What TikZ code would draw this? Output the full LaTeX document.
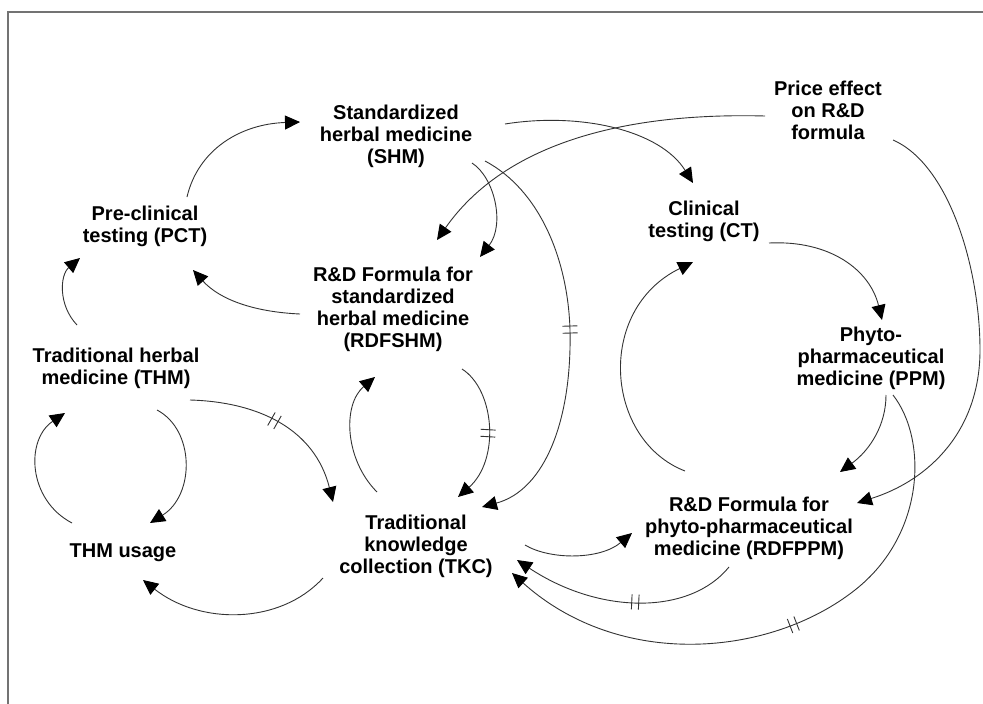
\documentclass[tikz,border=0pt]{standalone}
\usepackage{fontspec}
\setmainfont{Liberation Sans}
\usetikzlibrary{arrows.meta,decorations.markings,calc}
\begin{document}
\begin{tikzpicture}[x=1pt,y=-1pt,
  lbl/.style={font=\bfseries\fontsize{20}{22}\selectfont, align=center, inner sep=0pt},
  conn/.style={draw=black!80, line width=0.9pt, -{Triangle[length=15pt,width=14pt,color=black]}},
  dl/.style={postaction={decorate,decoration={markings,mark=at position #1 with {\draw[arrows=-,draw=black!80,line width=0.9pt] (-3.5,-7.5)--(-3.5,7.5) (3.5,-7.5)--(3.5,7.5);}}}}]
\useasboundingbox (0,0) rectangle (983,704);
\draw[draw=black!55, line width=2pt] (8,704) -- (8,12) -- (983,12);

% nodes
\node[lbl] (shm) at (396,136) {Standardized\\herbal medicine\\(SHM)};
\node[lbl] (price) at (828,110) {Price effect\\on R\&D\\formula};
\node[lbl] (pct) at (145,226) {Pre-clinical\\testing (PCT)};
\node[lbl] (ct) at (704,221) {Clinical\\testing (CT)};
\node[lbl] (rdfshm) at (393,309) {R\&D Formula for\\standardized\\herbal medicine\\(RDFSHM)};
\node[lbl] (thm) at (116,368) {Traditional herbal\\medicine (THM)};
\node[lbl] (ppm) at (871,358) {Phyto-\\pharmaceutical\\medicine (PPM)};
\node[lbl] (usage) at (123,553) {THM usage};
\node[lbl] (tkc) at (416,546) {Traditional\\knowledge\\collection (TKC)};
\node[lbl] (rdfppm) at (749,528) {R\&D Formula for\\phyto-pharmaceutical\\medicine (RDFPPM)};

% connectors
\draw[conn] ($(pct)+(42,-29)$) .. controls (198,150) and (240,124) .. ($(shm)+(-96,-14)$);
\draw[conn] ($(thm)+(-39,-43)$) .. controls (58,305) and (60,275) .. ($(pct)+(-65,32)$);
\draw[conn] ($(rdfshm)+(-93,5)$) .. controls (255,312) and (220,300) .. ($(pct)+(48,44)$);
\draw[conn] ($(shm)+(76,27)$) .. controls (495,178) and (505,225) .. ($(rdfshm)+(87,-52)$);
\draw[conn] ($(price)+(-63,6)$) .. controls (610,112) and (500,150) .. ($(rdfshm)+(44,-69)$);
\draw[conn] ($(shm)+(109,-12)$) .. controls (580,112) and (660,130) .. ($(ct)+(-11,-38)$);
\draw[conn,dl=0.48] ($(shm)+(89,25)$) .. controls (540,190) and (568,260) .. (570,330)
   .. controls (572,420) and (545,490) .. ($(tkc)+(66,-39)$);
\draw[conn,dl=0.5] ($(rdfshm)+(69,60)$) .. controls (495,390) and (500,460) .. ($(tkc)+(42,-49)$);
\draw[conn] ($(tkc)+(-39,-54)$) .. controls (345,460) and (342,405) .. ($(rdfshm)+(-18,68)$);
\draw[conn,dl=0.46] ($(thm)+(74,32)$) .. controls (260,402) and (315,430) .. ($(tkc)+(-83,-44)$);
\draw[conn] ($(thm)+(41,42)$) .. controls (195,430) and (195,495) .. ($(usage)+(27,-30)$);
\draw[conn] ($(usage)+(-51,-30)$) .. controls (28,500) and (25,440) .. ($(thm)+(-51,45)$);
\draw[conn] ($(tkc)+(-93,32)$) .. controls (280,625) and (200,625) .. ($(usage)+(20,27)$);
\draw[conn] ($(tkc)+(109,-1)$) .. controls (550,560) and (600,560) .. ($(rdfppm)+(-117,5)$);
\draw[conn,dl=0.45] ($(rdfppm)+(-20,39)$) .. controls (690,615) and (600,615) .. ($(tkc)+(101,14)$);
\draw[conn,dl=0.49] ($(ppm)+(22,37)$) .. controls (928,440) and (925,535) .. (855,590)
   .. controls (770,657) and (620,670) .. ($(tkc)+(96,27)$);
\draw[conn] ($(ppm)+(15,37)$) .. controls (886,425) and (870,450) .. ($(rdfppm)+(91,-56)$);
\draw[conn] ($(price)+(65,30)$) .. controls (950,165) and (980,270) .. (980,350)
   .. controls (980,430) and (930,480) .. ($(rdfppm)+(108,-25)$);
\draw[conn] ($(ct)+(65,22)$) .. controls (830,240) and (870,270) .. ($(ppm)+(11,-38)$);
\draw[conn] ($(rdfppm)+(-64,-57)$) .. controls (605,440) and (595,310) .. ($(ct)+(-11,41)$);
\end{tikzpicture}
\end{document}
